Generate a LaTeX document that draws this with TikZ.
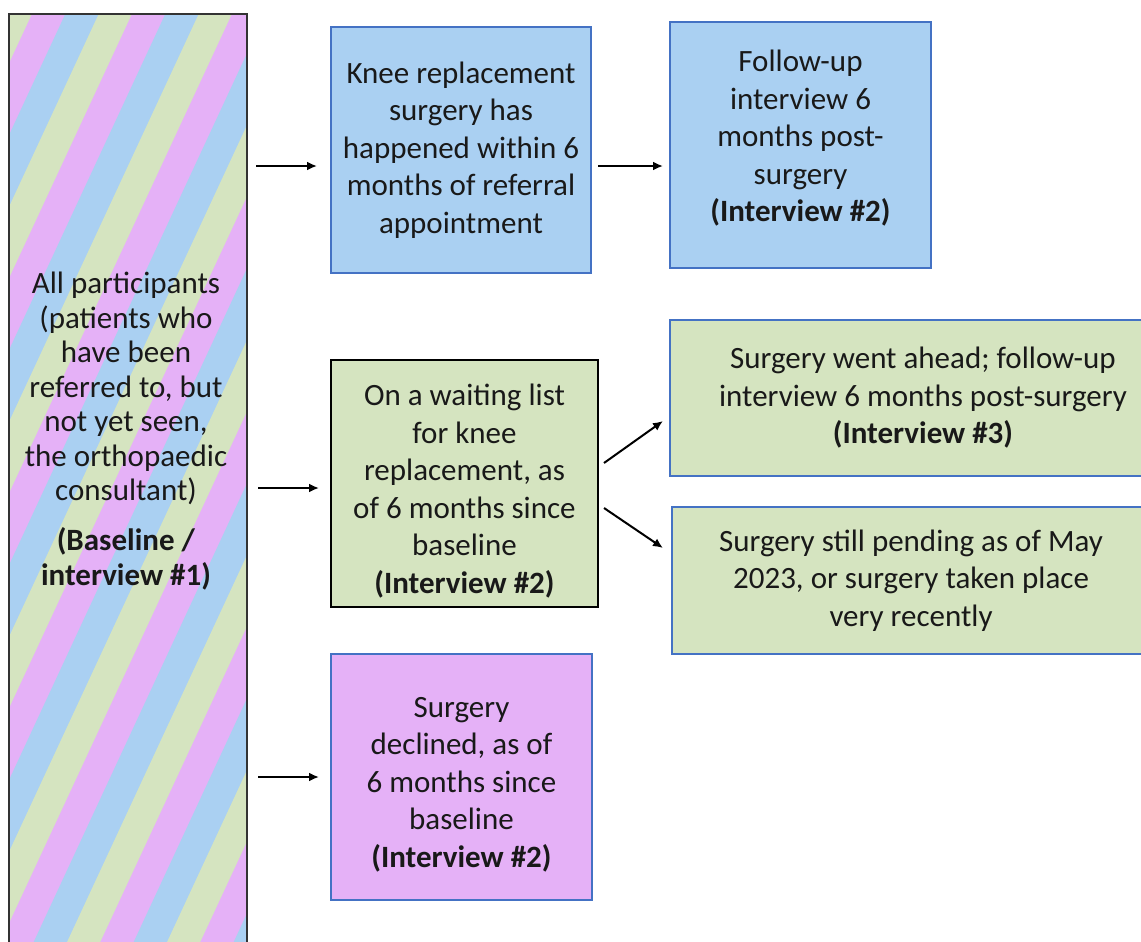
\documentclass[tikz,border=0pt]{standalone}
\usepackage{fontspec}
\setmainfont{Carlito}
\usetikzlibrary{arrows.meta}

\definecolor{boxblue}{RGB}{170,208,242}
\definecolor{boxgreen}{RGB}{213,228,192}
\definecolor{boxpink}{RGB}{229,177,247}
\definecolor{edgeblue}{RGB}{68,114,196}
\definecolor{txt}{RGB}{25,25,25}

\tikzset{
  stage/.style={draw=edgeblue, line width=1pt, align=center, inner sep=0pt, text=txt,
    font=\fontsize{15.5pt}{18.75pt}\selectfont},
  flow/.style={->, >={Latex[length=5pt,width=4.5pt]}, line width=1pt,
    shorten <=4pt, shorten >=6.5pt}
}

\begin{document}
\begin{tikzpicture}[x=0.5pt,y=-0.5pt]
    \useasboundingbox (0,0) rectangle (1141,942);
    \clip (0,0) rectangle (1141,942);
    % striped column
    \begin{scope}
    \clip (9,14) rectangle (247,960);
    \foreach \k in {-1,...,6}
    {
    \fill[boxpink] ({32+100*\k},14) -- ++(35,0) -- ++(-440,946) -- ++(-35,0) -- cycle;
    \fill[boxblue] ({65.3+100*\k},14) -- ++(35,0) -- ++(-440,946) -- ++(-35,0) -- cycle;
    \fill[boxgreen] ({98.7+100*\k},14) -- ++(35,0) -- ++(-440,946) -- ++(-35,0) -- cycle;
    }
    \end{scope}
    \node[draw=black!80, line width=1pt, minimum width=119pt, minimum height=473pt, inner sep=0pt] (all) at (128,487) {};
    \node[align=center, text=txt, font=\fontsize{15.5pt}{17.25pt}\selectfont] (alltxt) at (126,431)
    {All participants\\(patients who\\have been\\referred to, but\\not yet seen,\\the orthopaedic\\consultant)\\[7.75pt]
    \textbf{(Baseline /}\\\textbf{interview \#1)}};
    % boxes
    \node[stage, fill=boxblue, minimum width=130pt, minimum height=123pt] (knee) at (461,150)
    {Knee replacement\\surgery has\\happened within 6\\months of referral\\appointment};
    \node[stage, fill=boxblue, minimum width=130.5pt, minimum height=123pt] (follow) at (800.5,145)
    {Follow-up\\interview 6\\months post-\\surgery\\\textbf{(Interview \#2)}\rule[-9pt]{0pt}{1pt}};
    \node[stage, draw=black, fill=boxgreen, minimum width=133.5pt, minimum height=123.5pt] (wait) at (464.5,483.5)
    {\rule{0pt}{18.5pt}On a waiting list\\for knee\\replacement, as\\of 6 months since\\baseline\\\textbf{(Interview \#2)}};
    \node[stage, fill=boxgreen, minimum width=253pt, minimum height=78pt] (ahead) at (923,398)
    {Surgery went ahead; follow-up\\interview 6 months post-surgery\\\textbf{(Interview \#3)}};
    \node[stage, fill=boxgreen, minimum width=239pt, minimum height=73.5pt] (pending) at (911,580.5)
    {Surgery still pending as of May\\2023, or surgery taken place\\very recently};
    \node[stage, fill=boxpink, minimum width=130.5pt, minimum height=123pt] (declined) at (461.5,777)
    {\rule{0pt}{17.5pt}Surgery\\declined, as of\\6 months since\\baseline\\\textbf{(Interview \#2)}};
    % arrows
    \coordinate (k1) at ([yshift=-8pt]knee.west);
    \coordinate (k2) at ([yshift=-8pt]knee.east);
    \coordinate (w1) at ([yshift=-2.25pt]wait.west);
    \draw[flow] (all.east |- k1) -- (k1);
    \draw[flow, shorten <=3pt, shorten >=3pt] (k2) -- (k2 -| follow.west);
    \draw[flow, shorten <=5pt, shorten >=5.5pt] (all.east |- w1) -- (w1);
    \draw[flow, shorten <=5pt, shorten >=5.5pt] (all.east |- declined.west) -- (declined.west);
    \draw[flow, shorten <=0pt, shorten >=0pt] ([xshift=2.5pt,yshift=10.25pt]wait.east) -- ([xshift=-3pt,yshift=-11.5pt]ahead.west);
    \draw[flow, shorten <=0pt, shorten >=0pt] ([xshift=2.5pt,yshift=-12.25pt]wait.east) -- ([xshift=-4pt,yshift=16.25pt]pending.west);
\end{tikzpicture}
\end{document}
